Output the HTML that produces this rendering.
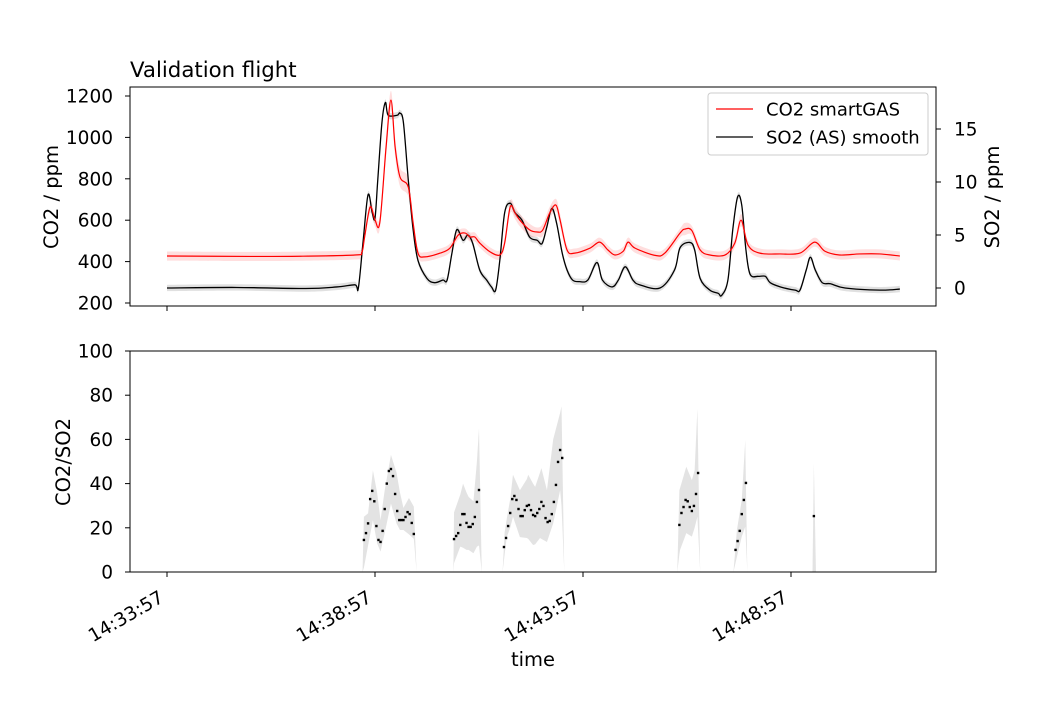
<!DOCTYPE html>
<html><head><meta charset="utf-8"><style>
body{margin:0;background:#fff}
svg{display:block;font-family:"DejaVu Sans","Liberation Sans",sans-serif}
</style></head><body>
<svg id="chart" width="1040" height="715" viewBox="0 0 1040 715" xmlns="http://www.w3.org/2000/svg">
<rect width="1040" height="715" fill="#fff"/>
<g id="top-marks"></g>
<g id="bot-marks"></g>
<g id="axes"></g>
<text x="130" y="77" font-size="21.3">Validation flight</text>
<text transform="translate(58,197) rotate(-90)" text-anchor="middle" font-size="19.5">CO2 / ppm</text>
<text transform="translate(999,197) rotate(-90)" text-anchor="middle" font-size="19.5">SO2 / ppm</text>
<text transform="translate(70,462) rotate(-90)" text-anchor="middle" font-size="19.5">CO2/SO2</text>
<text x="533" y="666" text-anchor="middle" font-size="19.5">time</text>
<g>
<rect x="708" y="93" width="220" height="62" rx="3" fill="#fff" fill-opacity="0.85" stroke="#ccc"/>
<line x1="716" y1="109" x2="753" y2="109" stroke="#f00" stroke-width="1.3"/>
<text x="766" y="115.5" font-size="18">CO2 smartGAS</text>
<line x1="716" y1="137" x2="753" y2="137" stroke="#000" stroke-width="1.3"/>
<text x="766" y="143.5" font-size="18">SO2 (AS) smooth</text>
</g>
</svg>
<script>
// time in seconds since 14:33:57
const co2T=[0,120,192,271,281,285,293,300,307,316,323,329,336,348,355,362,372,394,408,420,430,437,444,451,466,480,487,495,502,509,523,534,542,552,561,567,577,588,610,624,636,646,658,665,675,704,718,740,747,757,769,783,805,819,828,838,855,884,913,934,949,970,999,1028,1057];
const co2V=[427,425,426,432,445,519,664,601,590,954,1180,954,809,760,586,441,423,441,465,528,538,519,519,490,447,432,490,664,635,600,553,543,553,635,673,600,456,441,465,494,456,432,450,494,465,430,441,538,557,550,456,432,432,490,600,480,441,437,441,494,450,432,437,437,427];
const so2T=[0,100,200,245,271,276,283,290,296,300,304,310,315,319,332,336,341,348,355,362,375,386,398,404,411,418,427,434,441,451,461,468,474,480,487,495,502,512,523,534,541,548,555,562,570,577,585,595,607,620,628,642,651,661,672,682,711,732,740,754,761,769,783,795,800,809,816,823,829,835,841,853,863,870,885,906,913,922,928,935,945,957,978,1028,1057];
const so2V=[0,0.05,-0.05,0.1,0.3,0,4.5,8.8,7.1,6.6,10.2,15.6,17.5,16.3,16.3,16.5,15.6,10.2,5.5,2.6,0.9,0.5,0.75,0.75,3.3,5.5,4.5,5.0,4.2,1.7,0.75,0.1,-0.2,2.6,7.1,8.0,7.1,6.4,4.8,4.5,4.2,5.8,7.5,6.1,3.3,1.7,0.75,0.6,0.75,2.4,0.75,0.1,0.75,2.0,0.75,0.3,0,1.7,3.8,4.3,3.6,0.9,-0.2,-0.5,-0.7,0.75,5.5,8.6,7.8,3.6,1.3,1.1,1.1,0.5,0.1,-0.2,-0.2,1.7,2.9,1.7,0.5,0.4,0,-0.2,-0.1];
const ratioStart=[284,414,486,739,820,933];
const ratioG1=[14.5,17.6,22,33,36.7,32,20.8,14.5,13.6,18.6,28.5,40,45.7,46.6,43.4,35.3,27.6,23.5,23.5,23.5,24.9,27.1,26.2,22.2,17.2];
const ratioG2=[14.9,16.3,17.6,21.3,26.2,26.2,22.2,20.4,20.4,21.7,24.9,31.7,37.1];
const ratioG3=[11.3,15.4,20.8,26.7,33,34.4,32.6,28.5,25.3,25.3,28,29.9,30.3,28,25.8,25.3,26.7,28.5,31.7,29.9,24.4,22.6,23.1,26.2,31.7,39.4,49.8,55.2,51.6];
const ratioG4=[21.3,26.7,29.4,32.6,32,29.4,27.6,29.9,35.3,44.8];
const ratioG5=[10,14,18.6,26.2,32.6,40.3];
const ratioG6=[25.3];
const bandT1=[282,284,288,290,297,303,308,314,323,331,336,341,349,356,360];
const bandHi1=[0,25,26,26.5,46,36,23.5,37,53,45,36,29,33.5,29.6,0];
const bandLo1=[0,2,8.6,12,23.5,13,9.2,17.6,31,22,19,19,17,15,0];
const bandT2=[413,414,423,427,432,435,442,447,450,454];
const bandHi2=[0,27,35,40,36,34,32,50,65,0];
const bandLo2=[0,4,11.5,11,10,10,8.5,11.5,12,0];
const bandT3=[484,487,490,495,499,509,519,521,528,531,538,540,548,557,567,569,573];
const bandHi3=[0,18,24,33,44,37,42,44,40,38.5,45,47,37,60,72,75,0];
const bandLo3=[0,8,15.8,20,25,15.8,15.4,15,12.2,12.5,15.4,15,13.6,22,37,30,0];
const bandT4=[736,739,740,749,757,761,765,769];
const bandHi4=[0,37,38,47.6,41.6,46,74,0];
const bandLo4=[0,8,10,17.6,16,20,25,0];
const bandT5=[817,822,829,834,837];
const bandHi5=[0,19,32.6,59.7,0];
const bandLo5=[0,6.9,16,20.5,0];
const bandT6=[931,933,936];
const bandHi6=[0,49,0];
const bandLo6=[0,0,0];
const xTickSec=[0,300,600,900];
const xTickLabels=["14:33:57","14:38:57","14:43:57","14:48:57"];
const co2Ticks=[200,400,600,800,1000,1200];
const so2Ticks=[0,5,10,15];
const ratioTicks=[0,20,40,60,80,100];

const NS="http://www.w3.org/2000/svg";
const L=130,R=936,T1=87,B1=306,T2=351,B2=572;
const xS=s=>167+s*(208/300);
const yCO2=v=>303-(v-200)*0.207;
const ySO2=v=>288-v*10.6;
const yR=v=>B2-v*2.21;
function mk(tag,attrs,parent){const e=document.createElementNS(NS,tag);for(const k in attrs)e.setAttribute(k,attrs[k]);parent.appendChild(e);return e;}
function smooth(pts){
  let d='M'+pts[0][0]+','+pts[0][1];
  for(let i=0;i<pts.length-1;i++){
    const p0=pts[i-1]||pts[i],p1=pts[i],p2=pts[i+1],p3=pts[i+2]||p2;
    const c1=[p1[0]+(p2[0]-p0[0])/6,p1[1]+(p2[1]-p0[1])/6];
    const c2=[p2[0]-(p3[0]-p1[0])/6,p2[1]-(p3[1]-p1[1])/6];
    d+=`C${c1[0]},${c1[1]} ${c2[0]},${c2[1]} ${p2[0]},${p2[1]}`;
  }
  return d;
}
const topG=document.getElementById('top-marks'),botG=document.getElementById('bot-marks'),axG=document.getElementById('axes');

function errCO2(v){return v>700?45:(v>550?30:22);}
let up=co2T.map((t,i)=>[xS(t),yCO2(co2V[i]+errCO2(co2V[i]))]);
let dn=co2T.map((t,i)=>[xS(t),yCO2(co2V[i]-errCO2(co2V[i]))]).reverse();
let e=mk('path',{d:smooth(up)+'L'+smooth(dn).slice(1)+'Z',fill:'#f00','fill-opacity':0.13},topG);


up=so2T.map((t,i)=>[xS(t),ySO2(so2V[i]+0.3)]);
dn=so2T.map((t,i)=>[xS(t),ySO2(so2V[i]-0.3)]).reverse();
e=mk('path',{d:smooth(up)+'L'+smooth(dn).slice(1)+'Z',fill:'#000','fill-opacity':0.12},topG);


e=mk('path',{d:smooth(so2T.map((t,i)=>[xS(t),ySO2(so2V[i])])),fill:'none',stroke:'#000','stroke-width':1.3,'stroke-linejoin':'round'},topG);


e=mk('path',{d:smooth(co2T.map((t,i)=>[xS(t),yCO2(co2V[i])])),fill:'none',stroke:'#f00','stroke-width':1.2,'stroke-linejoin':'round'},topG);



const bands=[[bandT1,bandHi1,bandLo1],[bandT2,bandHi2,bandLo2],[bandT3,bandHi3,bandLo3],[bandT4,bandHi4,bandLo4],[bandT5,bandHi5,bandLo5],[bandT6,bandHi6,bandLo6]];
bands.forEach((b,gi)=>{
  const u=b[0].map((t,i)=>xS(t)+','+yR(b[1][i]));
  const d=b[0].map((t,i)=>xS(t)+','+yR(b[2][i])).reverse();
  const p=mk('polygon',{points:u.concat(d).join(' '),fill:'#d9d9d9','fill-opacity':0.75},botG);
  
  
});
const groups=[ratioG1,ratioG2,ratioG3,ratioG4,ratioG5,ratioG6];
groups.forEach((g,gi)=>{g.forEach((v,i)=>{
  const c=mk('rect',{x:xS(ratioStart[gi]+i*3)-1.2,y:yR(v)-1.2,width:2.4,height:2.4,fill:'#000'},botG);
  
  
});});

[[T1,B1],[T2,B2]].forEach((f,i)=>{
  const r=mk('rect',{x:L,y:f[0],width:R-L,height:f[1]-f[0],fill:'none',stroke:'#000','stroke-width':1},axG);
  
  
});
xTickSec.forEach((s,i)=>{
  const x=xS(s);
  let t=mk('line',{x1:x,y1:B1,x2:x,y2:B1+5,stroke:'#000'},axG);
  
  
  t=mk('line',{x1:x,y1:B2,x2:x,y2:B2+5,stroke:'#000'},axG);
  
  
  const tx=mk('text',{transform:`translate(${x-2},${B2+29}) rotate(-30)`,'text-anchor':'end','font-size':18.5},axG);
  tx.textContent=xTickLabels[i];
  
  
});
function yTicks(ticks,f,x0,dir,anchor,lx,name){ticks.forEach(v=>{
  const y=f(v);
  const t=mk('line',{x1:x0,y1:y,x2:x0+dir*5,y2:y,stroke:'#000'},axG);
  
  
  const tx=mk('text',{x:lx,y:y+6.5,'text-anchor':anchor,'font-size':18.5},axG);
  tx.textContent=v;
  
  
});}
yTicks(co2Ticks,yCO2,L,-1,'end',113,'co2-y');
yTicks(so2Ticks,ySO2,R,1,'start',954,'so2-y');
yTicks(ratioTicks,yR,L,-1,'end',113,'ratio-y');
</script>
</body></html>
